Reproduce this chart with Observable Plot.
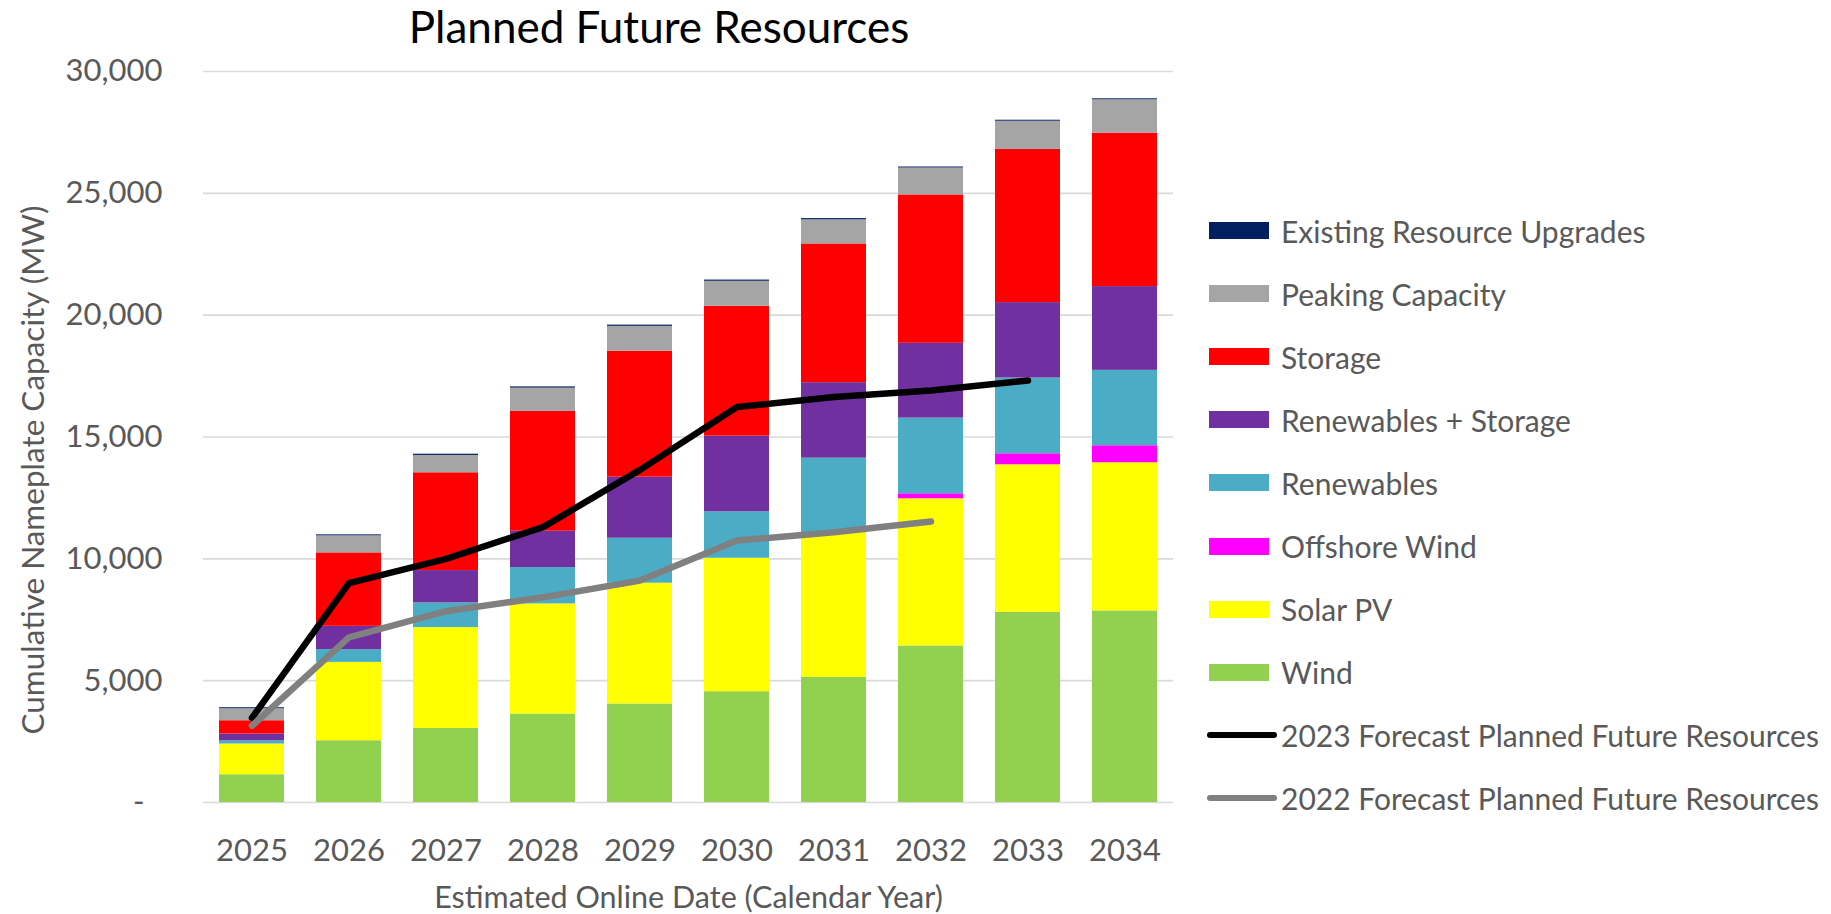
<!DOCTYPE html>
<html>
<head>
<meta charset="utf-8">
<script src="https://cdn.jsdelivr.net/npm/d3@7"></script>
<script src="https://cdn.jsdelivr.net/npm/@observablehq/plot@0.6"></script>
<style>
  body { margin: 0; background: #fff; font-family: Lato, "Open Sans", sans-serif; }
  #wrap { position: relative; width: 1831px; height: 914px; overflow: hidden; }
  #title { position: absolute; left: 0; top: 4px; width: 1318px; text-align: center; font-size: 44px; line-height: 44px; color: #000; }
  #chart { position: absolute; left: 0; top: 0; }
  #legend { position: absolute; left: 1209px; top: 199px; }
  .row { height: 63.1px; display: flex; align-items: center; font-size: 30px; color: #595959; white-space: nowrap; }
  .sw { width: 60px; height: 17px; margin-right: 12px; }
  .ln { width: 70px; height: 6px; border-radius: 3px; margin-left: -2px; margin-right: 4px; }
</style>
</head>
<body>
<div id="wrap">
  <div id="chart"></div>
  <div id="title">Planned Future Resources</div>
  <div id="legend"></div>
</div>
<script>
const years = ["2025","2026","2027","2028","2029","2030","2031","2032","2033","2034"];
const seriesNames = ["Wind","Solar PV","Offshore Wind","Renewables","Renewables + Storage","Storage","Peaking Capacity","Existing Resource Upgrades"];
const seriesColors = ["#92D050","#FFFF00","#FF00FF","#4BACC6","#7030A0","#FF0000","#A5A5A5","#002060"];

const wind              = [1140, 2535, 3040, 3632, 4042, 4548, 5135, 6425, 7805, 7863];
const solarPV           = [1260, 3216, 4137, 4518, 4958, 5476, 5935, 6039, 6055, 6080];
const offshoreWind      = [0, 0, 0, 0, 0, 0, 0, 205, 452, 698];
const renewables        = [135, 522, 1014, 1491, 1846, 1906, 3062, 3106, 3108, 3094];
const renewablesStorage = [275, 957, 1327, 1492, 2505, 3106, 3097, 3070, 3095, 3438];
const storage           = [546, 3015, 4014, 4917, 5164, 5327, 5694, 6090, 6286, 6298];
const peakingCapacity   = [493, 699, 711, 957, 1027, 1027, 990, 1105, 1159, 1369];
const existingUpgrades  = [40, 40, 50, 50, 50, 50, 50, 40, 40, 40];

const forecast2023Label = "2023 Forecast Planned Future Resources";
const forecast2023 = [3470, 9000, 10000, 11300, 13650, 16230, 16640, 16910, 17320];
const forecast2022Label = "2022 Forecast Planned Future Resources";
const forecast2022 = [3150, 6780, 7850, 8420, 9110, 10750, 11090, 11530];

const yTicks = [0, 5000, 10000, 15000, 20000, 25000, 30000];
const xTitle = "Estimated Online Date (Calendar Year)";
const yTitle = "Cumulative Nameplate Capacity (MW)";

const seriesValues = [wind, solarPV, offshoreWind, renewables, renewablesStorage, storage, peakingCapacity, existingUpgrades];
const rows = [];
years.forEach((yr, i) => {
  seriesNames.forEach((s, j) => rows.push({year: yr, series: s, value: seriesValues[j][i]}));
});
const line23 = forecast2023.map((v, i) => ({year: years[i], value: v}));
const line22 = forecast2022.map((v, i) => ({year: years[i], value: v}));

const fmt = d3.format(",");
const chart = Plot.plot({
  width: 1831,
  height: 914,
  marginTop: 71,
  marginBottom: 112,
  marginLeft: 203,
  marginRight: 658,
  style: {fontFamily: "Lato, 'Open Sans', sans-serif", fontSize: "31px", color: "#595959", background: "transparent", overflow: "visible"},
  x: {domain: years, paddingInner: 0.33, paddingOuter: 0.165, label: null},
  y: {domain: [0, 30000], label: null},
  color: {domain: seriesNames, range: seriesColors},
  marks: [
    Plot.gridY(yTicks, {stroke: "#D9D9D9", strokeOpacity: 1, strokeWidth: 1.6}),
    Plot.barY(rows, {x: "year", y: "value", fill: "series"}),
    Plot.lineY(line23, {x: "year", y: "value", stroke: "#000000", strokeWidth: 6.5, strokeLinecap: "round", strokeLinejoin: "round"}),
    Plot.lineY(line22, {x: "year", y: "value", stroke: "#808080", strokeWidth: 6.5, strokeLinecap: "round", strokeLinejoin: "round"}),
    Plot.axisX({tickSize: 0, tickPadding: 36, fontSize: 31, fill: "#595959", label: null}),
    Plot.axisY(yTicks, {tickSize: 0, tickPadding: 41, fontSize: 31, fill: "#595959", label: null,
      tickFormat: d => d === 0 ? "-\u2007" : fmt(d)}),
    Plot.text([xTitle], {text: d => d, frameAnchor: "bottom", dy: 105, fontSize: 30.5, fill: "#595959"}),
    Plot.text([yTitle], {text: d => d, frameAnchor: "left", textAnchor: "middle", rotate: -90, dx: -170, dy: 33, fontSize: 31.5, fill: "#595959"})
  ]
});
document.getElementById("chart").appendChild(chart);

const legend = document.getElementById("legend");
for (let j = seriesNames.length - 1; j >= 0; j--) {
  const r = document.createElement("div"); r.className = "row";
  const sw = document.createElement("span"); sw.className = "sw"; sw.style.background = seriesColors[j];
  r.appendChild(sw); r.appendChild(document.createTextNode(seriesNames[j]));
  legend.appendChild(r);
}
[[forecast2023Label, "#000000"], [forecast2022Label, "#808080"]].forEach(([lab, col]) => {
  const r = document.createElement("div"); r.className = "row";
  const sw = document.createElement("span"); sw.className = "ln"; sw.style.background = col;
  r.appendChild(sw); r.appendChild(document.createTextNode(lab));
  legend.appendChild(r);
});
</script>
</body>
</html>
